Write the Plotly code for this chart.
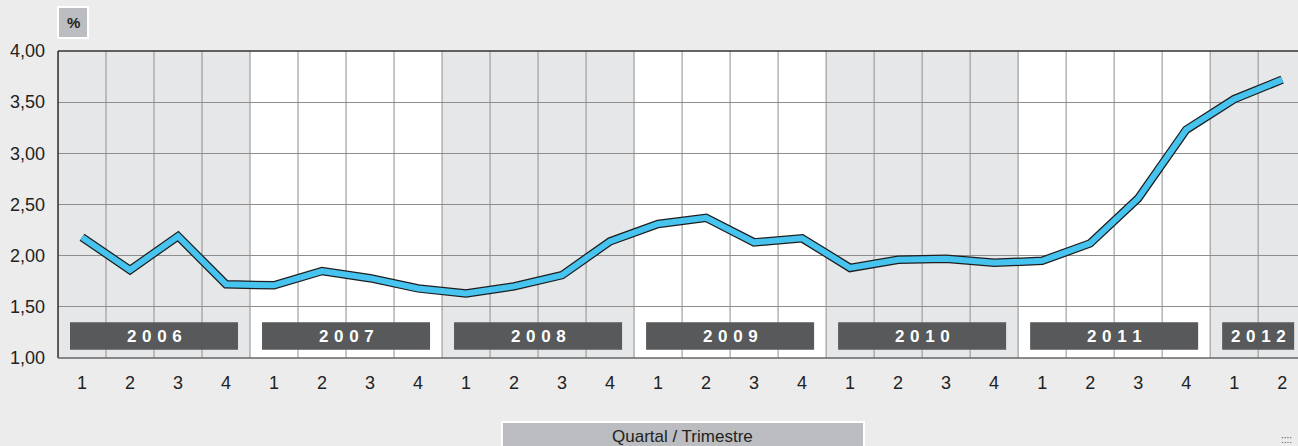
import plotly.graph_objects as go

years = ["2006", "2007", "2008", "2009", "2010", "2011", "2012"]
quarters_per_year = [4, 4, 4, 4, 4, 4, 2]
values = [2.18, 1.86, 2.19, 1.72,
          1.71, 1.85, 1.78, 1.68,
          1.63, 1.70, 1.81, 2.14,
          2.31, 2.37, 2.13, 2.17,
          1.88, 1.96, 1.97, 1.93,
          1.95, 2.12, 2.56, 3.23,
          3.53, 3.72]
quarter_labels = []
for n in quarters_per_year:
    quarter_labels += [str(i + 1) for i in range(n)]
x = list(range(len(values)))

FONT = "Liberation Sans, Arial"

fig = go.Figure()
fig.add_trace(go.Scatter(x=x, y=values, mode="lines",
                         line=dict(color="#1e1e1e", width=8.5), hoverinfo="skip", showlegend=False))
fig.add_trace(go.Scatter(x=x, y=values, mode="lines",
                         line=dict(color="#46c3ee", width=6), showlegend=False))

shapes = []
annotations = []
start = 0
for i, (yr, n) in enumerate(zip(years, quarters_per_year)):
    if i % 2 == 0:
        shapes.append(dict(type="rect", xref="x", yref="y", x0=start - 0.5, x1=start + n - 0.5,
                           y0=1, y1=4, fillcolor="#e6e7e9", line=dict(width=0), layer="below"))
    shapes.append(dict(type="rect", xref="x", yref="y", x0=start - 0.25, x1=start + n - 0.75,
                       y0=1.08, y1=1.35, fillcolor="#58595b", line=dict(width=0), layer="above"))
    annotations.append(dict(x=start + (n - 1) / 2, y=1.215, xref="x", yref="y",
                            xanchor="center", yanchor="middle",
                            text="<b>" + "\u2004".join(yr) + "</b>", showarrow=False,
                            font=dict(color="white", size=17, family=FONT)))
    start += n

# vertical grid lines at quarter boundaries
for k in range(len(values) + 1):
    shapes.append(dict(type="line", xref="x", yref="y", x0=k - 0.5, x1=k - 0.5, y0=1, y1=4,
                       line=dict(color="#8e8e8e", width=1), layer="below"))

# frame lines
shapes.append(dict(type="line", xref="paper", yref="paper", x0=0, x1=1, y0=1, y1=1,
                   line=dict(color="#333333", width=1.5)))
shapes.append(dict(type="line", xref="paper", yref="paper", x0=0, x1=0, y0=0, y1=1,
                   line=dict(color="#333333", width=1.5)))
shapes.append(dict(type="line", xref="paper", yref="paper", x0=0, x1=1, y0=0, y1=0,
                   line=dict(color="#666666", width=1.5)))

# % box
shapes.append(dict(type="rect", xref="paper", yref="paper", x0=0.0, x1=0.0242, y0=1.042, y1=1.143,
                   fillcolor="#bcbdc0", line=dict(color="white", width=2)))
annotations.append(dict(x=0.0121, y=1.0925, xref="paper", yref="paper", text="<b>%</b>",
                        xanchor="center", yanchor="middle",
                        showarrow=False, font=dict(size=15, color="#222222", family=FONT)))

# x-axis title box
shapes.append(dict(type="rect", xref="paper", yref="paper", x0=0.358, x1=0.650, y0=-0.32, y1=-0.2085,
                   fillcolor="#bcbdc0", line=dict(color="white", width=2)))
annotations.append(dict(x=0.504, y=-0.257, xref="paper", yref="paper", text="Quartal / Trimestre",
                        xanchor="center", yanchor="middle",
                        showarrow=False, font=dict(size=17, color="#222222", family=FONT)))

# corner dots
annotations.append(dict(x=0.997, y=-0.265, xref="paper", yref="paper", text="::::",
                        showarrow=False, xanchor="right", yanchor="middle",
                        font=dict(size=10, color="#555555", family=FONT)))

fig.update_layout(
    width=1298, height=446,
    margin=dict(l=58, r=0, t=51, b=88),
    paper_bgcolor="#ebeceb",
    plot_bgcolor="white",
    separators=",.",
    shapes=shapes,
    annotations=annotations,
    font=dict(family=FONT, color="#222222", size=18),
    xaxis=dict(range=[-0.5, 25.33], tickmode="array", tickvals=x, ticktext=quarter_labels,
               showgrid=False, zeroline=False, showline=False, ticks="", ticklabelstandoff=12,
               tickfont=dict(size=18, color="#222222")),
    yaxis=dict(range=[1, 4], dtick=0.5, tick0=1, tickformat=".2f", showgrid=True,
               gridcolor="#8e8e8e", gridwidth=1, zeroline=False, showline=False, ticks="",
               ticklabelstandoff=12, tickfont=dict(size=18, color="#222222")),
)

fig.write_html("out.html", config={"displayModeBar": False},
               post_script="document.body.style.margin='0';document.body.style.overflow='hidden';")
